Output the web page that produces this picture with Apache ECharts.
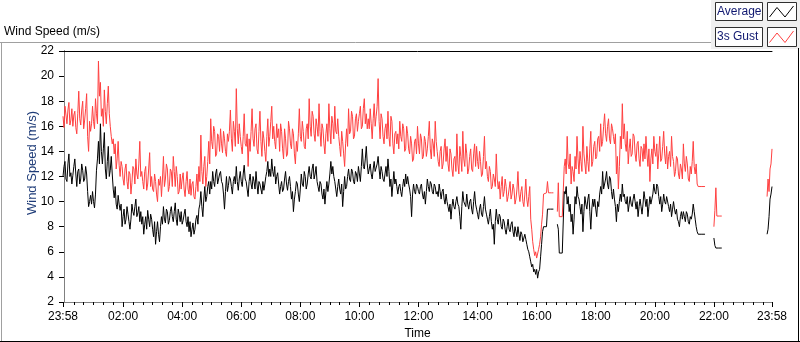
<!DOCTYPE html>
<html>
<head>
<meta charset="utf-8">
<script src="https://cdn.jsdelivr.net/npm/echarts@6/dist/echarts.min.js"></script>
<style>
html,body{margin:0;padding:0;background:#fff;}
#c{width:800px;height:342px;}
</style>
</head>
<body>
<div id="c"></div>
<script>
// Time axis: minutes since 00:00; the record starts at 23:58 of the previous day (-2), one reading every 2 minutes.
var startMinute = -2;
var stepMinutes = 2;
var xTickLabels = ['23:58','02:00','04:00','06:00','08:00','10:00','12:00','14:00','16:00','18:00','20:00','22:00','23:58'];
var xTickMinutes = [-2,120,240,360,480,600,720,840,960,1080,1200,1320,1438];
var yTicks = [2,4,6,8,10,12,14,16,18,20,22];
var seriesNames = ['Average','3s Gust'];

// 3 s gust (m/s), one row = 20 minutes
var gustValues = [
16.8,15.9,17.6,16.9,16.2,17.3,17.9,16.1,16.5,17.4,
16.0,16.9,17.2,15.9,15.4,17.0,18.8,16.6,16.1,17.3,
18.0,15.8,16.5,17.4,18.6,15.2,14.0,16.4,15.6,16.2,
17.6,16.4,15.8,18.2,17.0,16.2,21.2,18.4,19.5,16.8,
17.4,16.0,18.9,17.2,16.2,17.8,19.2,17.0,16.0,15.2,
14.6,15.0,13.8,14.6,12.6,13.4,14.8,12.9,12.0,13.2,
12.8,11.8,11.3,12.6,13.0,11.6,11.0,12.4,12.2,10.6,
11.5,12.8,12.6,11.4,13.4,12.2,11.8,13.0,14.8,12.0,
12.4,11.6,11.0,12.4,12.8,10.9,11.4,12.6,13.9,11.2,
12.0,11.0,10.8,12.2,11.6,10.6,10.0,11.8,11.3,12.0,
10.4,11.8,13.6,11.2,11.8,13.0,12.6,10.8,11.2,12.6,
12.4,11.2,13.6,12.4,11.2,12.8,12.0,10.6,10.8,12.2,
11.0,11.8,12.3,11.0,10.4,11.6,12.4,11.0,10.6,11.8,
10.5,11.4,11.6,10.4,10.2,11.2,12.2,10.8,12.8,11.6,
15.3,12.4,11.4,12.8,13.6,11.2,12.0,13.2,14.8,13.0,
16.6,14.8,14.2,16.0,15.6,13.6,13.8,15.4,15.2,14.0,
15.8,14.6,13.9,15.6,15.0,14.0,13.6,15.4,14.8,15.6,
17.3,15.0,14.0,16.4,15.6,14.4,19.0,15.8,14.6,16.2,
15.2,14.4,13.8,15.2,17.0,14.6,14.4,15.4,12.8,15.0,
14.0,15.6,17.4,15.0,14.4,15.8,16.2,14.2,13.8,15.6,
17.2,14.8,13.6,15.6,15.0,14.0,13.2,15.2,16.6,14.4,
15.2,16.4,17.6,15.0,16.0,14.8,14.2,16.2,15.1,15.8,
14.0,16.2,15.6,14.2,13.4,15.8,15.0,13.6,13.8,16.4,
15.8,14.6,14.2,15.8,15.4,13.8,13.0,14.8,14.0,15.4,
17.4,15.2,14.8,16.4,15.6,14.4,14.2,15.8,16.2,15.0,
18.2,16.0,15.2,17.2,16.8,15.4,14.8,16.6,16.0,15.2,
17.8,15.6,14.4,16.2,15.8,14.6,13.8,15.4,16.2,14.8,
17.8,15.8,14.6,16.8,16.2,15.0,17.6,15.6,15.4,16.6,
15.2,14.4,13.6,15.6,14.8,13.8,12.8,14.6,15.8,14.4,
17.4,15.4,15.6,17.2,16.8,15.0,15.2,16.6,17.0,15.6,
16.4,17.0,17.6,15.8,16.0,17.4,18.2,16.2,17.0,15.8,
16.6,15.8,17.4,16.2,15.0,16.6,17.8,16.0,16.8,17.6,
19.8,16.4,15.0,17.0,16.6,15.2,14.6,15.8,16.2,15.0,
17.2,15.2,14.4,16.8,16.4,14.6,13.8,15.4,15.6,14.6,
15.4,14.2,16.4,15.2,14.8,16.2,15.8,14.0,14.2,16.0,
15.4,14.2,13.8,15.2,14.6,13.2,13.4,14.8,15.0,13.8,
16.0,14.6,13.8,15.4,15.0,13.4,13.6,15.2,14.8,13.6,
14.2,15.2,16.4,14.2,13.4,15.0,14.6,13.6,16.4,14.8,
14.0,13.2,12.8,14.0,14.4,12.6,13.0,14.2,15.0,13.2,
14.4,13.0,12.4,14.2,13.8,12.6,12.0,13.4,13.6,12.4,
15.4,13.0,12.2,14.4,13.6,12.4,15.6,13.4,12.8,14.6,
13.8,12.2,12.6,13.6,14.2,12.6,12.4,13.8,14.6,12.8,
14.4,13.2,12.6,14.0,13.2,12.0,12.2,13.6,15.2,12.6,
13.2,12.0,11.6,12.8,12.4,11.0,11.2,12.2,11.8,11.2,
13.8,11.8,11.0,11.6,10.2,11.2,12.0,10.4,10.8,11.8,
11.2,10.0,10.4,11.0,11.6,10.2,10.6,11.4,11.0,9.8,
10.2,11.0,12.4,10.6,10.0,10.8,11.2,10.0,9.6,10.6,
11.8,10.2,9.6,10.4,11.2,8.6,7.8,6.8,6.2,5.7,
6.0,5.5,5.4,6.2,6.6,7.2,8.2,9.0,10.6,10.7,
10.7,10.7,11.6,10.7,10.7,10.7,10.7,10.7,10.7,null,
null,null,9.2,11.5,8.8,8.8,8.8,8.8,8.8,12.8,
13.4,12.2,15.2,13.0,12.6,13.8,11.4,12.8,12.4,11.6,
13.6,12.6,15.2,13.4,12.2,14.0,13.2,12.4,16.0,13.8,
13.0,12.2,14.4,13.2,12.4,14.2,15.6,12.8,13.2,14.4,
14.8,13.4,13.6,15.0,15.2,14.0,16.2,14.4,14.8,16.0,
17.0,15.4,14.8,16.0,16.6,15.0,14.6,16.2,15.8,15.2,
14.6,15.4,12.2,13.6,11.0,12.8,15.2,14.2,17.8,15.0,
16.2,14.6,14.0,15.6,13.0,14.2,15.0,13.6,13.8,15.4,
15.2,13.8,13.2,14.6,14.8,13.4,12.8,14.4,14.2,13.2,
14.6,13.4,15.2,13.8,12.8,14.2,11.6,13.4,14.2,13.0,
15.2,14.0,13.6,14.6,12.6,13.8,15.2,13.2,13.4,14.4,
15.6,13.8,13.0,14.4,12.6,13.6,14.0,12.8,15.2,13.6,
13.2,12.0,12.4,13.6,13.4,12.2,11.8,13.0,12.6,11.8,
14.6,13.0,12.4,13.6,13.0,11.8,11.6,12.8,12.2,13.2,
14.8,12.8,12.2,13.0,11.4,11.2,11.2,11.2,11.2,11.2,
11.2,11.2,11.2,null,null,null,null,null,null,null,
null,8.0,9.3,11.1,8.85,8.85,8.85,8.85,8.85,8.85,
null,null,null,null,null,null,null,null,null,null,
null,null,null,null,null,null,null,null,null,null,
null,null,null,null,null,null,null,null,null,null,
null,null,null,null,null,null,null,null,null,null,
null,null,null,null,null,10.4,11.8,10.8,12.6,13.0,
14.2
];

// 1-minute average (m/s), one row = 20 minutes
var avgValues = [
12.0,12.8,13.2,11.8,11.6,13.0,13.8,12.0,12.3,11.4,
12.1,12.8,13.4,12.2,11.2,12.4,12.6,11.4,11.8,13.0,
12.5,11.6,11.8,12.8,12.2,10.8,9.6,10.0,10.5,9.8,
10.8,10.0,9.5,10.6,12.5,13.4,14.8,13.0,16.2,14.0,
13.0,14.2,15.5,12.6,11.8,13.2,14.4,12.0,12.5,13.6,
12.2,11.0,10.3,11.2,9.8,9.4,10.5,9.8,9.3,9.8,
8.0,8.8,9.4,8.2,8.6,9.6,9.0,8.4,7.8,8.6,
9.8,9.2,8.9,9.6,10.2,8.8,9.1,9.6,8.4,9.2,
8.2,8.8,7.4,8.2,8.8,7.8,9.3,8.6,8.0,9.0,
8.6,7.8,7.2,8.4,6.6,7.6,8.4,7.4,6.8,8.0,
8.8,8.2,9.6,8.6,8.3,9.4,9.2,8.2,8.5,9.2,
9.6,8.8,8.4,9.2,9.9,8.6,8.1,9.4,9.0,8.4,
9.2,8.2,8.5,9.0,9.4,8.4,8.0,8.8,7.6,8.4,
7.2,7.8,8.3,7.4,7.8,8.6,8.9,8.2,9.4,9.8,
10.8,9.6,8.8,10.2,11.2,10.0,10.4,11.2,11.6,10.6,
11.6,11.0,12.4,11.6,11.2,12.2,12.6,11.4,11.8,12.2,
12.4,11.6,11.4,10.6,9.4,10.8,12.0,10.8,11.3,12.0,
11.8,11.2,10.6,11.6,12.0,11.4,12.8,11.6,10.9,11.8,
12.4,11.6,11.2,12.2,12.9,11.8,11.6,11.0,10.4,11.6,
12.2,11.4,11.0,12.0,11.6,11.0,12.4,11.4,10.6,11.6,
11.4,11.0,10.6,11.6,10.9,11.4,12.0,12.4,13.2,12.0,
12.6,12.0,13.4,12.4,12.0,12.8,11.4,12.0,12.3,11.4,
10.6,11.2,11.6,10.8,11.0,11.8,12.4,11.4,10.9,11.6,
12.0,11.2,10.2,10.8,9.2,10.2,10.8,11.6,11.4,10.6,
10.0,11.0,12.2,11.4,11.2,12.4,12.0,11.0,11.4,12.2,
12.8,12.0,11.8,12.6,13.0,11.8,12.2,12.8,11.6,11.2,
10.8,11.6,11.4,10.6,10.2,11.0,9.8,10.8,11.6,10.8,
11.4,12.2,13.2,12.2,12.8,12.0,11.6,11.0,10.4,11.2,
11.8,11.0,10.6,11.4,9.6,10.8,12.0,11.0,11.2,12.0,
12.6,11.8,11.6,12.6,12.4,11.6,11.4,12.4,12.2,11.6,
12.8,12.2,11.6,12.8,14.2,12.8,12.6,13.4,14.4,13.0,
12.2,12.6,13.0,12.2,11.8,12.6,13.2,12.4,12.4,13.0,
13.6,12.6,11.8,12.8,12.4,11.8,11.6,12.2,12.8,12.0,
13.4,12.4,11.2,11.8,10.4,11.4,12.4,11.4,11.8,11.2,
10.6,11.2,11.4,10.8,10.4,11.2,11.8,11.2,12.2,11.4,
12.0,11.4,11.0,10.4,8.8,10.6,11.4,10.8,10.6,11.4,
11.2,10.8,10.6,11.2,11.4,10.6,10.2,10.8,9.8,10.8,
11.8,11.2,10.8,11.6,11.4,10.8,10.6,11.4,11.2,10.6,
10.8,10.4,11.4,10.8,10.2,10.8,11.0,10.2,9.8,10.6,
10.0,9.6,9.2,9.8,8.6,9.6,10.2,9.6,9.4,10.0,
10.4,9.8,9.6,8.8,7.8,9.6,10.8,10.0,10.0,9.6,
10.6,9.8,9.4,10.0,10.2,9.4,9.0,10.0,10.8,9.8,
9.4,9.0,8.6,9.4,9.8,9.0,8.8,9.6,10.4,9.4,
9.0,8.6,8.2,8.8,9.4,8.4,7.8,8.2,6.6,8.4,
9.4,8.6,8.2,9.0,8.8,8.0,7.8,8.6,8.4,7.8,
7.4,8.0,8.6,7.8,7.6,8.2,8.4,7.6,7.2,8.0,
7.6,7.2,8.0,7.4,6.9,7.6,7.4,6.8,6.8,7.4,
7.0,6.6,6.2,6.0,5.6,5.2,4.8,5.0,4.4,4.6,
4.2,4.6,3.9,4.4,4.6,5.6,6.6,7.6,8.0,8.0,
8.0,8.0,9.4,9.4,9.4,9.4,9.4,9.4,9.4,null,
null,null,8.2,7.8,5.9,5.9,5.9,5.9,5.9,10.8,
10.6,11.2,9.8,10.4,9.2,9.8,8.4,9.0,7.4,8.6,
10.4,9.8,11.2,10.4,10.2,9.6,9.0,9.8,7.6,9.2,
10.4,9.8,9.4,10.2,10.6,9.2,7.8,9.4,10.2,9.6,
10.2,9.4,8.8,10.0,9.6,10.6,11.2,10.6,12.4,11.0,
11.4,11.8,12.4,11.4,11.0,12.0,11.8,10.8,10.2,11.0,
10.2,9.6,8.4,9.8,9.2,10.0,10.6,10.0,11.4,10.4,
10.6,10.0,9.8,10.4,9.2,9.8,10.4,9.8,9.6,10.2,
10.6,10.0,9.4,10.0,8.8,9.6,10.2,9.6,9.0,9.8,
10.8,10.2,9.6,10.2,8.8,9.6,10.4,9.8,9.8,10.6,
11.4,10.8,10.6,11.4,11.2,10.4,9.8,10.4,9.2,9.8,
10.6,10.0,9.8,10.4,10.4,9.6,9.2,9.8,8.8,9.4,
10.0,9.4,9.0,9.4,8.6,8.4,8.0,8.8,9.2,8.6,
9.2,8.8,8.4,9.2,9.0,8.4,8.2,8.8,8.6,9.0,
9.8,9.2,8.6,8.0,7.6,7.4,7.4,7.4,7.4,7.4,
7.4,7.4,7.4,null,null,null,null,null,null,null,
null,7.1,6.5,6.3,6.3,6.3,6.3,6.3,6.3,6.3,
null,null,null,null,null,null,null,null,null,null,
null,null,null,null,null,null,null,null,null,null,
null,null,null,null,null,null,null,null,null,null,
null,null,null,null,null,null,null,null,null,null,
null,null,null,null,null,7.4,7.8,8.8,10.2,10.6,
11.2
];

function pairs(vals){
  var out = [];
  for (var i = 0; i < vals.length; i++) out.push([startMinute + i*stepMinutes, vals[i]]);
  return out;
}
var minorTicks = [];
for (var m = 0; m < 1440; m += 20) { if (m % 120 !== 0) minorTicks.push(m); }

var FONT = 'Liberation Sans';
var chart = echarts.init(document.getElementById('c'), null, {renderer:'canvas'});
var xMin = -2, xMax = 1438;
chart.setOption({
  animation:false,
  backgroundColor:'#ffffff',
  textStyle:{fontFamily:FONT},
  grid:{left:63,right:28,top:51,bottom:40,containLabel:false,outerBoundsMode:'none'},
  xAxis:[
    {type:'value',min:xMin,max:xMax,position:'bottom',
     name:'Time',nameLocation:'middle',nameGap:26,nameTextStyle:{color:'#000',fontSize:12,fontFamily:FONT},
     axisLine:{show:true,lineStyle:{color:'#808080',width:1}},
     axisTick:{show:true,inside:false,length:5,lineStyle:{color:'#000'},customValues:xTickMinutes},
     axisLabel:{show:true,color:'#000',fontSize:12,fontFamily:FONT,margin:9,customValues:xTickMinutes,
       formatter:function(v){var i=xTickMinutes.indexOf(v);return i>=0?xTickLabels[i]:'';}},
     splitLine:{show:false}},
    {type:'value',min:xMin,max:xMax,position:'bottom',
     axisLine:{show:false},
     axisTick:{show:true,length:3,lineStyle:{color:'#000'},customValues:minorTicks},
     axisLabel:{show:false},splitLine:{show:false}},
    {type:'value',min:xMin,max:xMax,position:'top',
     axisLine:{show:true,lineStyle:{color:'#000',width:1}},
     axisTick:{show:false},axisLabel:{show:false},splitLine:{show:false}}
  ],
  yAxis:[
    {type:'value',min:2,max:22,interval:2,position:'left',
     axisLine:{show:true,lineStyle:{color:'#000',width:1}},
     axisTick:{show:true,length:5,lineStyle:{color:'#000'}},
     axisLabel:{color:'#000',fontSize:12,fontFamily:FONT,margin:9},
     splitLine:{show:false}},
    {type:'value',min:2,max:22,position:'right',
     axisLine:{show:true,lineStyle:{color:'#808080',width:1}},
     axisTick:{show:false},axisLabel:{show:false},splitLine:{show:false}}
  ],
  series:[
    {name:seriesNames[1],type:'line',xAxisIndex:0,yAxisIndex:0,data:pairs(gustValues),
     showSymbol:false,connectNulls:false,lineStyle:{color:'#ff4040',width:1},itemStyle:{color:'#ff4040'}},
    {name:seriesNames[0],type:'line',xAxisIndex:0,yAxisIndex:0,data:pairs(avgValues),
     showSymbol:false,connectNulls:false,lineStyle:{color:'#000000',width:1},itemStyle:{color:'#000'}}
  ],
  graphic:[
    {type:'rect',shape:{x:711,y:0,width:89,height:49},style:{fill:'#f0f0f0'},silent:true,z:-1},
    {type:'line',shape:{x1:0,y1:42.5,x2:711,y2:42.5},style:{stroke:'#a0a0a0',lineWidth:1}},
    {type:'line',shape:{x1:1.5,y1:42.5,x2:1.5,y2:342},style:{stroke:'#a0a0a0',lineWidth:1}},
    {type:'line',shape:{x1:0,y1:341.5,x2:800,y2:341.5},style:{stroke:'#000',lineWidth:1}},
    {type:'line',shape:{x1:798.5,y1:48,x2:798.5,y2:342},style:{stroke:'#000',lineWidth:1}},
    {type:'text',left:4,top:26,style:{text:'Wind Speed (m/s)',fill:'#000',font:'12px "'+FONT+'"'}},
    {type:'text',x:32,y:163,rotation:Math.PI/2,style:{text:'Wind Speed (m/s)',fill:'#1f3c78',font:'13px "'+FONT+'"',align:'center',verticalAlign:'middle'}},
    {type:'rect',shape:{x:715.5,y:2.5,width:47,height:18},style:{fill:'#fff',stroke:'#303030',lineWidth:1}},
    {type:'text',x:717,y:12,style:{text:seriesNames[0],fill:'#101870',font:'12px "'+FONT+'"',verticalAlign:'middle'}},
    {type:'rect',shape:{x:767.5,y:2.5,width:29,height:18},style:{fill:'#fff',stroke:'#303030',lineWidth:1}},
    {type:'polyline',shape:{points:[[769.5,17],[777,7.5],[785,17],[793.5,6]]},style:{stroke:'#000',fill:null,lineWidth:1}},
    {type:'rect',shape:{x:715.5,y:27.5,width:47,height:19},style:{fill:'#fff',stroke:'#303030',lineWidth:1}},
    {type:'text',x:717,y:37,style:{text:seriesNames[1],fill:'#101870',font:'12px "'+FONT+'"',verticalAlign:'middle'}},
    {type:'rect',shape:{x:767.5,y:27.5,width:29,height:19},style:{fill:'#fff',stroke:'#303030',lineWidth:1}},
    {type:'polyline',shape:{points:[[769.5,42.5],[777,33],[785,42.5],[793.5,31]]},style:{stroke:'#ff4040',fill:null,lineWidth:1}}
  ]
});
</script>
</body>
</html>
